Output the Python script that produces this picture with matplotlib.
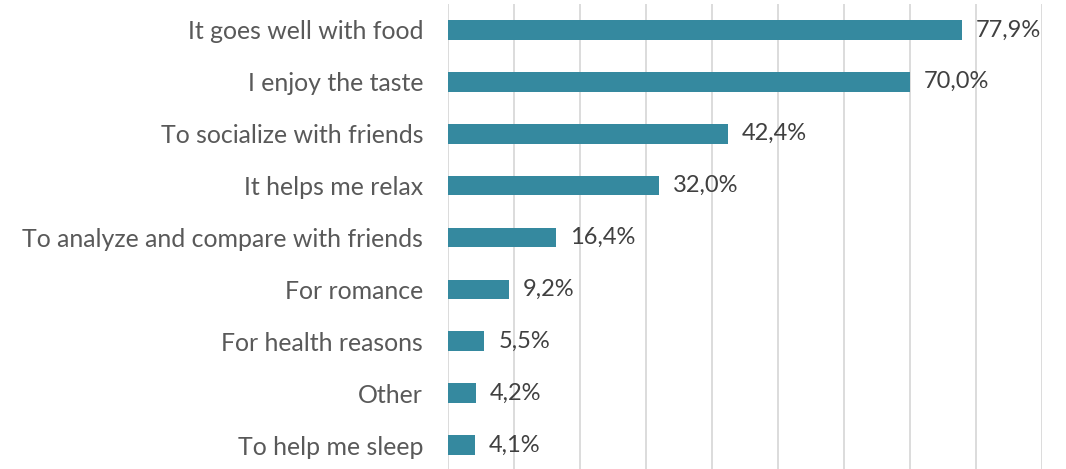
import numpy as np
import matplotlib.pyplot as plt

# -------------------------------------------------------
# Daten
# -------------------------------------------------------
reasons = ["It goes well with food", "I enjoy the taste", "To socialize with friends",
           "It helps me relax", "To analyze and compare with friends", "For romance",
           "For health reasons", "Other", "To help me sleep"]
shares = [77.9, 70.0, 42.4, 32.0, 16.4, 9.2, 5.5, 4.2, 4.1]  # %

bar_color = "#35899F"
text_color = "#595959"

plt.rcParams['font.family'] = ['Lato', 'DejaVu Sans']

fig = plt.figure(figsize=(10.66, 4.69), dpi=100)
ax = fig.add_axes([448 / 1066, -2 / 469, (1042 - 448) / 1066, 467 / 469])

y = np.arange(len(reasons))
ax.barh(y, shares, height=0.38, color=bar_color, zorder=3)

for yi, v in zip(y, shares):
    ax.annotate(f"{v:.1f}%".replace(".", ","), (v, yi), xytext=(10, 0),
                textcoords="offset points", va="center", ha="left",
                fontsize=17, color="#404040")

ax.set_xlim(0, 90)
ax.set_ylim(len(reasons) - 0.5, -0.5)
ax.set_xticks(np.arange(0, 91, 10))
ax.set_xticklabels([])
ax.tick_params(axis="x", length=0)
ax.tick_params(axis="y", length=0, pad=18, labelsize=17.9, labelcolor=text_color)
ax.set_yticks(y)
ax.set_yticklabels(reasons)
ax.grid(axis="x", color="#D9D9D9", linewidth=1.3, zorder=0)
for s in ax.spines.values():
    s.set_visible(False)

fig.savefig("out.png", dpi=100)
